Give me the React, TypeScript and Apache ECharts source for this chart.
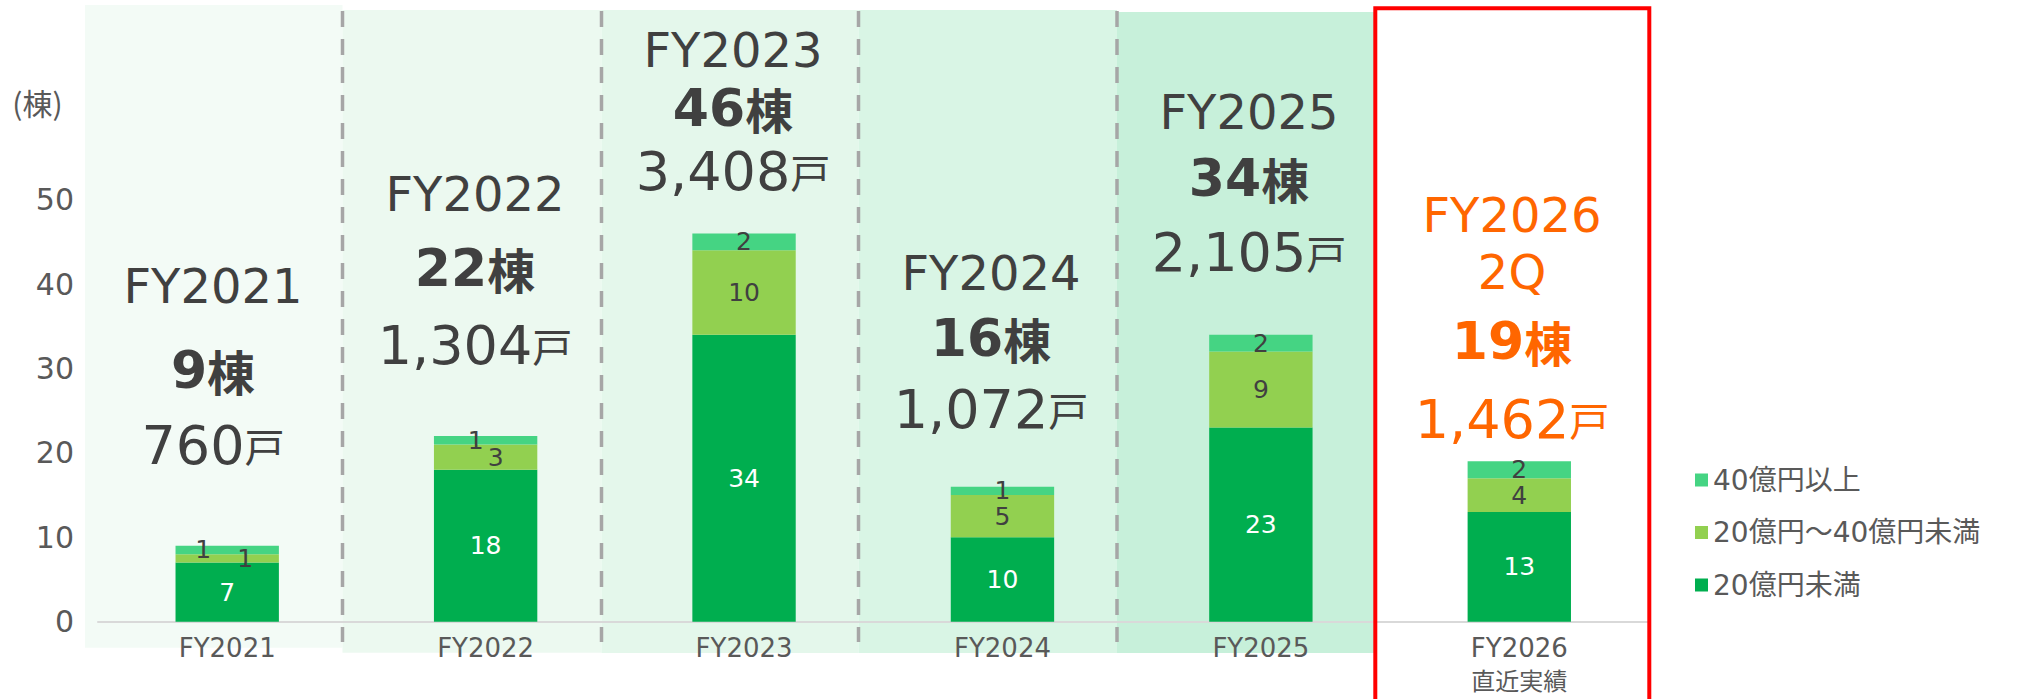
import React, { useEffect, useRef } from 'react';
import * as echarts from 'echarts';

// ---- data ----
const categories = ['FY2021', 'FY2022', 'FY2023', 'FY2024', 'FY2025', 'FY2026\n直近実績'];
const under20 = [7, 18, 34, 10, 23, 13];
const from20to40 = [1, 3, 10, 5, 9, 4];
const over40 = [1, 1, 2, 1, 2, 2];
const households = [760, 1304, 3408, 1072, 2105, 1462];
const blockTitles = [['FY2021'], ['FY2022'], ['FY2023'], ['FY2024'], ['FY2025'], ['FY2026', '2Q']];
const seriesNames = ['20億円未満', '20億円～40億円未満', '40億円以上'];
const legendOrder = ['40億円以上', '20億円～40億円未満', '20億円未満'];
const yMin = 0;
const yMax = 50;
const yStep = 10;

// ---- layout / style ----
const W = 2021;
const H = 699;
const LATIN = "'DejaVu Sans', 'Noto Sans CJK JP', sans-serif";
const CJK = "'Noto Sans CJK JP', sans-serif";
const TEXT_DARK = '#404040';
const TEXT_AXIS = '#595959';
const ORANGE = '#ff6600';
const COLORS = ['#00ae4f', '#92d050', '#45d483'];

const panels = [
  { x: 85, y: 5, w: 257.5, h: 642.7, fill: '#f3fbf6' },
  { x: 342.5, y: 10, w: 259, h: 642.7, fill: '#ecf9f0' },
  { x: 601.5, y: 10, w: 257, h: 643, fill: '#e4f7eb' },
  { x: 858.5, y: 10, w: 258.5, h: 643, fill: '#d9f5e5' },
  { x: 1117, y: 12, w: 257, h: 641, fill: '#c7f0da' },
];
const dividers = [342.5, 601.5, 858.5, 1117];
const blocks = [
  { x: 213, ys: [286], yCount: 370, yUnits: 445, color: TEXT_DARK },
  { x: 475, ys: [194], yCount: 268, yUnits: 345, color: TEXT_DARK },
  { x: 733, ys: [50], yCount: 108, yUnits: 171, color: TEXT_DARK },
  { x: 991, ys: [273], yCount: 338, yUnits: 409, color: TEXT_DARK },
  { x: 1249, ys: [112], yCount: 178, yUnits: 252, color: TEXT_DARK },
  { x: 1512, ys: [215, 272], yCount: 341, yUnits: 419, color: ORANGE },
];
const topShift = [[-24, 0], [-10, 0], [0, 0], [0, 0], [0, 0], [0, 0]];
const midShift = [[18, 0], [10, 0], [0, 0], [0, 0], [0, 0], [0, 0]];

function buildGraphic() {
  const g: any[] = [];
  panels.forEach((p) => {
    g.push({
      type: 'rect',
      z: -10,
      silent: true,
      shape: { x: p.x, y: p.y, width: p.w, height: p.h },
      style: { fill: p.fill },
    });
  });
  dividers.forEach((x) => {
    g.push({
      type: 'line',
      z: -9,
      silent: true,
      shape: { x1: x, y1: 11, x2: x, y2: 642 },
      style: { stroke: '#a6a6a6', lineWidth: 3.5, lineDash: [16, 12] },
    });
  });
  g.push({
    type: 'rect',
    z: 20,
    silent: true,
    shape: { x: 1375.3, y: 8.3, width: 274, height: 800 },
    style: { fill: 'none', stroke: '#ff0000', lineWidth: 4 },
  });
  g.push({
    type: 'text',
    z: 20,
    x: 37.5,
    y: 101.7,
    style: {
      text: '(棟)',
      fill: TEXT_AXIS,
      fontSize: 30,
      fontFamily: CJK,
      align: 'center',
      verticalAlign: 'middle',
    },
  });
  blocks.forEach((b, i) => {
    const total = under20[i] + from20to40[i] + over40[i];
    blockTitles[i].forEach((t, k) => {
      g.push({
        type: 'text',
        z: 20,
        x: b.x,
        y: b.ys[k],
        style: {
          text: t,
          fill: b.color,
          fontSize: 48,
          fontFamily: LATIN,
          align: 'center',
          verticalAlign: 'middle',
        },
      });
    });
    g.push({
      type: 'text',
      z: 20,
      x: b.x,
      y: b.yCount,
      style: {
        text: `{n|${total}}{u|棟}`,
        fill: b.color,
        align: 'center',
        verticalAlign: 'middle',
        rich: {
          n: { fontSize: 52, fontWeight: 'bold', fontFamily: LATIN, fill: b.color },
          u: { fontSize: 48, fontWeight: 'bold', fontFamily: CJK, fill: b.color },
        },
      },
    });
    g.push({
      type: 'text',
      z: 20,
      x: b.x,
      y: b.yUnits,
      style: {
        text: `{n|${households[i].toLocaleString('en-US')}}{u|戸}`,
        fill: b.color,
        align: 'center',
        verticalAlign: 'middle',
        rich: {
          n: { fontSize: 54, fontFamily: LATIN, fill: b.color },
          u: { fontSize: 40, fontFamily: CJK, fill: b.color },
        },
      },
    });
  });
  return g;
}

export default function App() {
  const ref = useRef<HTMLDivElement>(null);
  useEffect(() => {
    document.body.style.margin = '0';
    if (!ref.current) return;
    const chart = echarts.init(ref.current, undefined, { renderer: 'svg' });
    const labelBase = { show: true, position: 'inside', fontSize: 25, fontFamily: LATIN };
    chart.setOption({
      animation: false,
      backgroundColor: '#ffffff',
      grid: { left: 98, right: W - 1648.5, top: 199.7, bottom: H - 621.7, containLabel: false },
      legend: {
        orient: 'vertical',
        left: 1690,
        top: 461,
        icon: 'rect',
        itemWidth: 13,
        itemHeight: 13,
        itemGap: 24.5,
        data: legendOrder,
        textStyle: { color: TEXT_AXIS, fontSize: 28, fontFamily: LATIN },
      },
      xAxis: {
        type: 'category',
        data: categories,
        axisLine: { lineStyle: { color: '#d9d9d9', width: 2 } },
        axisTick: { show: false },
        axisLabel: {
          interval: 0,
          color: TEXT_AXIS,
          fontSize: 26,
          fontFamily: LATIN,
          lineHeight: 32,
          margin: 10,
          formatter: (v: string) =>
            v.indexOf('\n') >= 0
              ? v.split('\n').map((s, i) => (i === 0 ? s : `{b|${s}}`)).join('\n')
              : v,
          rich: { b: { fontSize: 24, fontFamily: CJK, color: TEXT_AXIS, lineHeight: 32 } },
        },
      },
      yAxis: {
        type: 'value',
        min: yMin,
        max: yMax,
        interval: yStep,
        axisLine: { show: false },
        axisTick: { show: false },
        splitLine: { show: false },
        axisLabel: { color: TEXT_AXIS, fontSize: 30, fontFamily: LATIN, margin: 24 },
      },
      series: [
        {
          name: seriesNames[0],
          type: 'bar',
          stack: 'total',
          barWidth: '40%',
          itemStyle: { color: COLORS[0] },
          label: { ...labelBase, color: '#ffffff' },
          data: under20,
        },
        {
          name: seriesNames[1],
          type: 'bar',
          stack: 'total',
          barWidth: '40%',
          itemStyle: { color: COLORS[1] },
          label: { ...labelBase, color: TEXT_DARK },
          data: from20to40.map((v, i) => ({ value: v, label: { offset: midShift[i] } })),
        },
        {
          name: seriesNames[2],
          type: 'bar',
          stack: 'total',
          barWidth: '40%',
          itemStyle: { color: COLORS[2] },
          label: { ...labelBase, color: TEXT_DARK },
          data: over40.map((v, i) => ({ value: v, label: { offset: topShift[i] } })),
        },
      ],
      graphic: buildGraphic(),
    });
    return () => chart.dispose();
  }, []);
  return <div ref={ref} style={{ width: W, height: H }} />;
}
